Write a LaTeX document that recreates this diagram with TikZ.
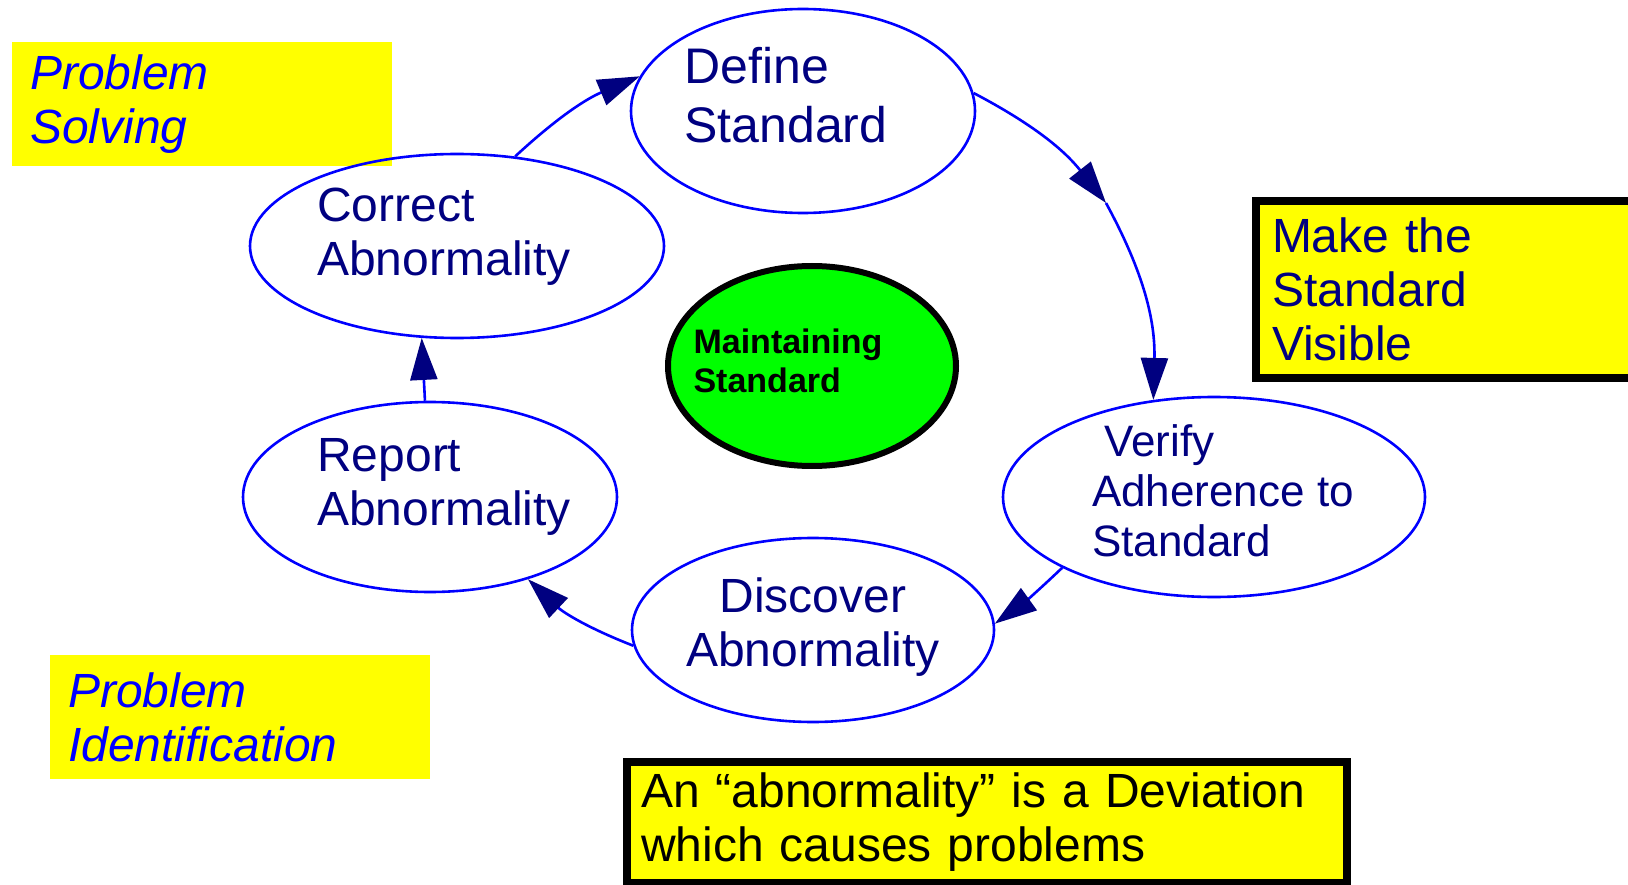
\documentclass[tikz,border=0pt]{standalone}
\usepackage{fontspec}
\setmainfont{Liberation Sans}
\usepackage{xcolor}
\usetikzlibrary{arrows.meta,positioning,shapes.geometric}
\definecolor{navy}{HTML}{000080}
\definecolor{linkblue}{HTML}{0000FF}
\definecolor{noteyellow}{HTML}{FFFF00}
\definecolor{hubgreen}{HTML}{00FF00}
\tikzset{%
	stage/.style     = {draw=linkblue, line width=2.6pt, ellipse, inner sep=0pt},
	stagetext/.style = {text=navy, inner sep=0pt, align=left, font=\fontsize{48}{54}\selectfont},
	hub/.style       = {draw=black, line width=6pt, fill=hubgreen, ellipse, inner sep=0pt},
	note/.style      = {fill=noteyellow, rectangle, anchor=north west, align=left, text=linkblue, font=\fontsize{48}{54}\selectfont\itshape},
	notebox/.style   = {draw=black, line width=8pt, fill=noteyellow, rectangle, anchor=north west, align=left, font=\fontsize{48}{54}\selectfont},
	flow/.style      = {draw=linkblue, line width=2.6pt, -{Triangle[length=42pt,width=27pt,color=navy]}},
}
\begin{document}
\begin{tikzpicture}[x=1pt,y=-1pt]
	\useasboundingbox (0,0) rectangle (1628,885);

	\node[note, minimum width=380pt, minimum height=124pt, inner xsep=18pt, text width=344pt] (solving) at (12,42) {Problem\\Solving};
	\node[note, minimum width=380pt, minimum height=124pt, inner xsep=18pt, text width=344pt] (finding) at (50,655) {Problem\\Identification};
	\node[notebox, text=navy, minimum width=384pt, minimum height=177pt, inner xsep=16pt, text width=352pt] (visible) at (1252,197) {Make the\\Standard\\Visible};
	\node[notebox, text=black, minimum width=720pt, minimum height=121pt, inner xsep=14pt, text width=692pt] (deviation) at (623,758) {An “abnormality” is a Deviation\\which causes problems};

	\node[stage, minimum width=344pt, minimum height=204pt, label={[stagetext, font=\fontsize{50}{59}\selectfont, xshift=-17pt, yshift=16pt]center:{Define\\Standard}}] (define) at (803,111) {};
	\node[stage, minimum width=414pt, minimum height=184pt, label={[stagetext, xshift=-13pt, yshift=9pt]center:{Correct\\Abnormality}}] (correct) at (457,246) {};
	\node[stage, minimum width=374pt, minimum height=190pt, label={[stagetext, xshift=14pt, yshift=10pt]center:{Report\\Abnormality}}] (report) at (430,497) {};
	\node[stage, minimum width=362pt, minimum height=184pt, label={[stagetext, align=center, yshift=3pt]center:{Discover\\Abnormality}}] (discover) at (813,630) {};
	\node[stage, minimum width=422pt, minimum height=200pt, label={[stagetext, font=\fontsize{44}{50}\selectfont, xshift=9pt, yshift=6pt]center:{\hspace*{0.28em}Verify\\Adherence to\\Standard}}] (verify) at (1214,497) {};
	\node[hub, minimum width=288pt, minimum height=200pt, label={[stagetext, text=black, font=\fontsize{34}{39}\selectfont\bfseries, xshift=-24pt, yshift=5pt]center:{Maintaining\\Standard}}] (maintain) at (812,366) {};

	\coordinate (turn) at (1106,203);
	\draw[flow] (correct.57) to[bend left=10] (define.168);
	\draw[flow] (define.6) to[bend left=12] (turn);
	\draw[flow] (turn) to[bend left=15] (verify.122);
	\draw[flow] (verify.205) to[bend left=4] (discover.2);
	\draw[flow] (discover.185) to[bend left=11] (report.320);
	\draw[flow] (report.93) -- (correct.249);
\end{tikzpicture}
\end{document}
